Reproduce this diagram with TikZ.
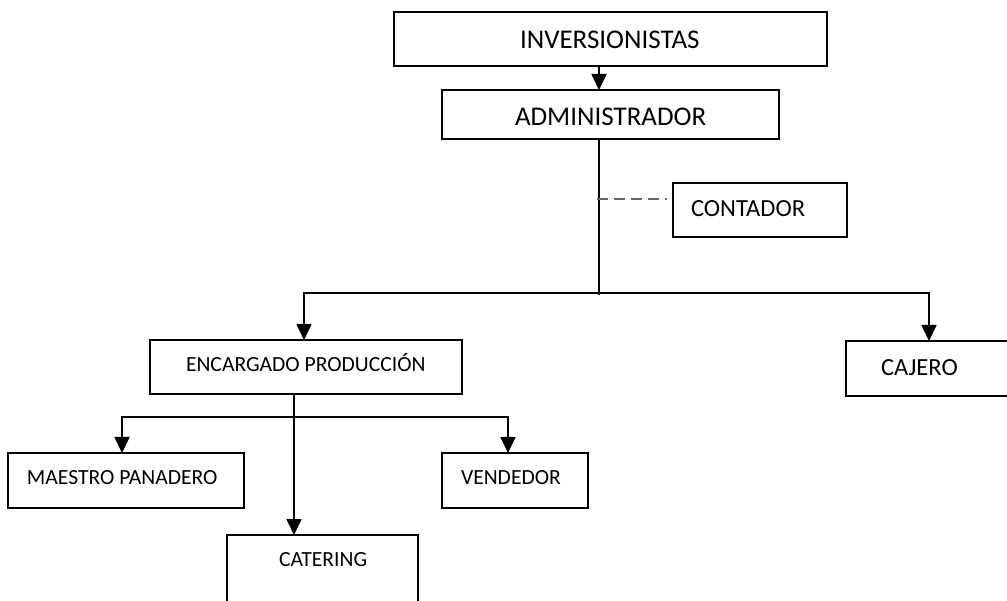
\documentclass[tikz,border=0pt]{standalone}
\usepackage{fontspec}
\setmainfont{Carlito}
\usetikzlibrary{arrows.meta}
\begin{document}
\begin{tikzpicture}[x=1pt,y=-1pt,
  box/.style={draw,line width=1.7pt,inner sep=0pt,outer sep=0pt},
  lbl/.style={inner sep=0pt,outer sep=0pt,anchor=base west},
  big/.style={font=\fontsize{27}{31}\selectfont},
  mid/.style={font=\fontsize{24.6}{28}\selectfont},
  small/.style={font=\fontsize{21.6}{25}\selectfont},
  link/.style={line width=1.7pt},
  arr/.style={line width=1.7pt,-{Triangle[width=15pt,length=16pt]}},
  aux/.style={line width=1.2pt,black!60,dash pattern=on 11pt off 6pt}]
\useasboundingbox (0,0) rectangle (1007,601);
\clip (0,0) rectangle (1007,601);
% boxes
\node[box,minimum width=433pt,minimum height=54pt] (inv) at (610.5,39) {};
\node[box,minimum width=337pt,minimum height=49pt] (adm) at (610.5,114.5) {};
\node[box,minimum width=174pt,minimum height=54pt] (cont) at (760,210) {};
\node[box,minimum width=214pt,minimum height=55pt] (caj) at (953,368.5) {};
\node[box,minimum width=312pt,minimum height=54pt] (enc) at (306,367) {};
\node[box,minimum width=236pt,minimum height=55pt] (mae) at (126,480.5) {};
\node[box,minimum width=146pt,minimum height=55pt] (ven) at (515,480.5) {};
\node[box,minimum width=191pt,minimum height=100pt] (cat) at (322.5,585) {};
% labels
\node[lbl,big] (invT) at (520,48.3) {INVERSIONISTAS};
\node[lbl,big] (admT) at (515,126) {ADMINISTRADOR};
\node[lbl,mid] (contT) at (691,217) {CONTADOR};
\node[lbl,mid] (cajT) at (881,376) {CAJERO};
\node[lbl,small] (encT) at (186,371.5) {ENCARGADO PRODUCCIÓN};
\node[lbl,small] (maeT) at (27,485) {MAESTRO PANADERO};
\node[lbl,small] (venT) at (461,485) {VENDEDOR};
\node[lbl,small] (catT) at (279,566.5) {CATERING};
% connector coordinates
\coordinate (trunk) at (599,0);
\coordinate (jEnd) at (599,295);
\coordinate (hL) at (304,293);
\coordinate (hR) at (929,293);
\coordinate (dS) at (597,199);
\coordinate (dE) at (667,199);
\coordinate (eDown) at (294,0);
\coordinate (sL) at (122,417);
\coordinate (sR) at (508,417);
% connectors
\draw[arr] (inv.south -| trunk) -- (adm.north -| trunk);
\draw[link] (adm.south -| trunk) -- (jEnd);
\draw[arr] (hR) -- (hL) -- (hL |- enc.north);
\draw[arr] (hL) -- (hR) -- (hR |- caj.north);
\draw[aux] (dS) -- (dE);
\draw[arr] (enc.south -| eDown) -- (cat.north -| eDown);
\draw[arr] (sR) -- (sL) -- (sL |- mae.north);
\draw[arr] (sL) -- (sR) -- (sR |- ven.north);
\end{tikzpicture}
\end{document}
